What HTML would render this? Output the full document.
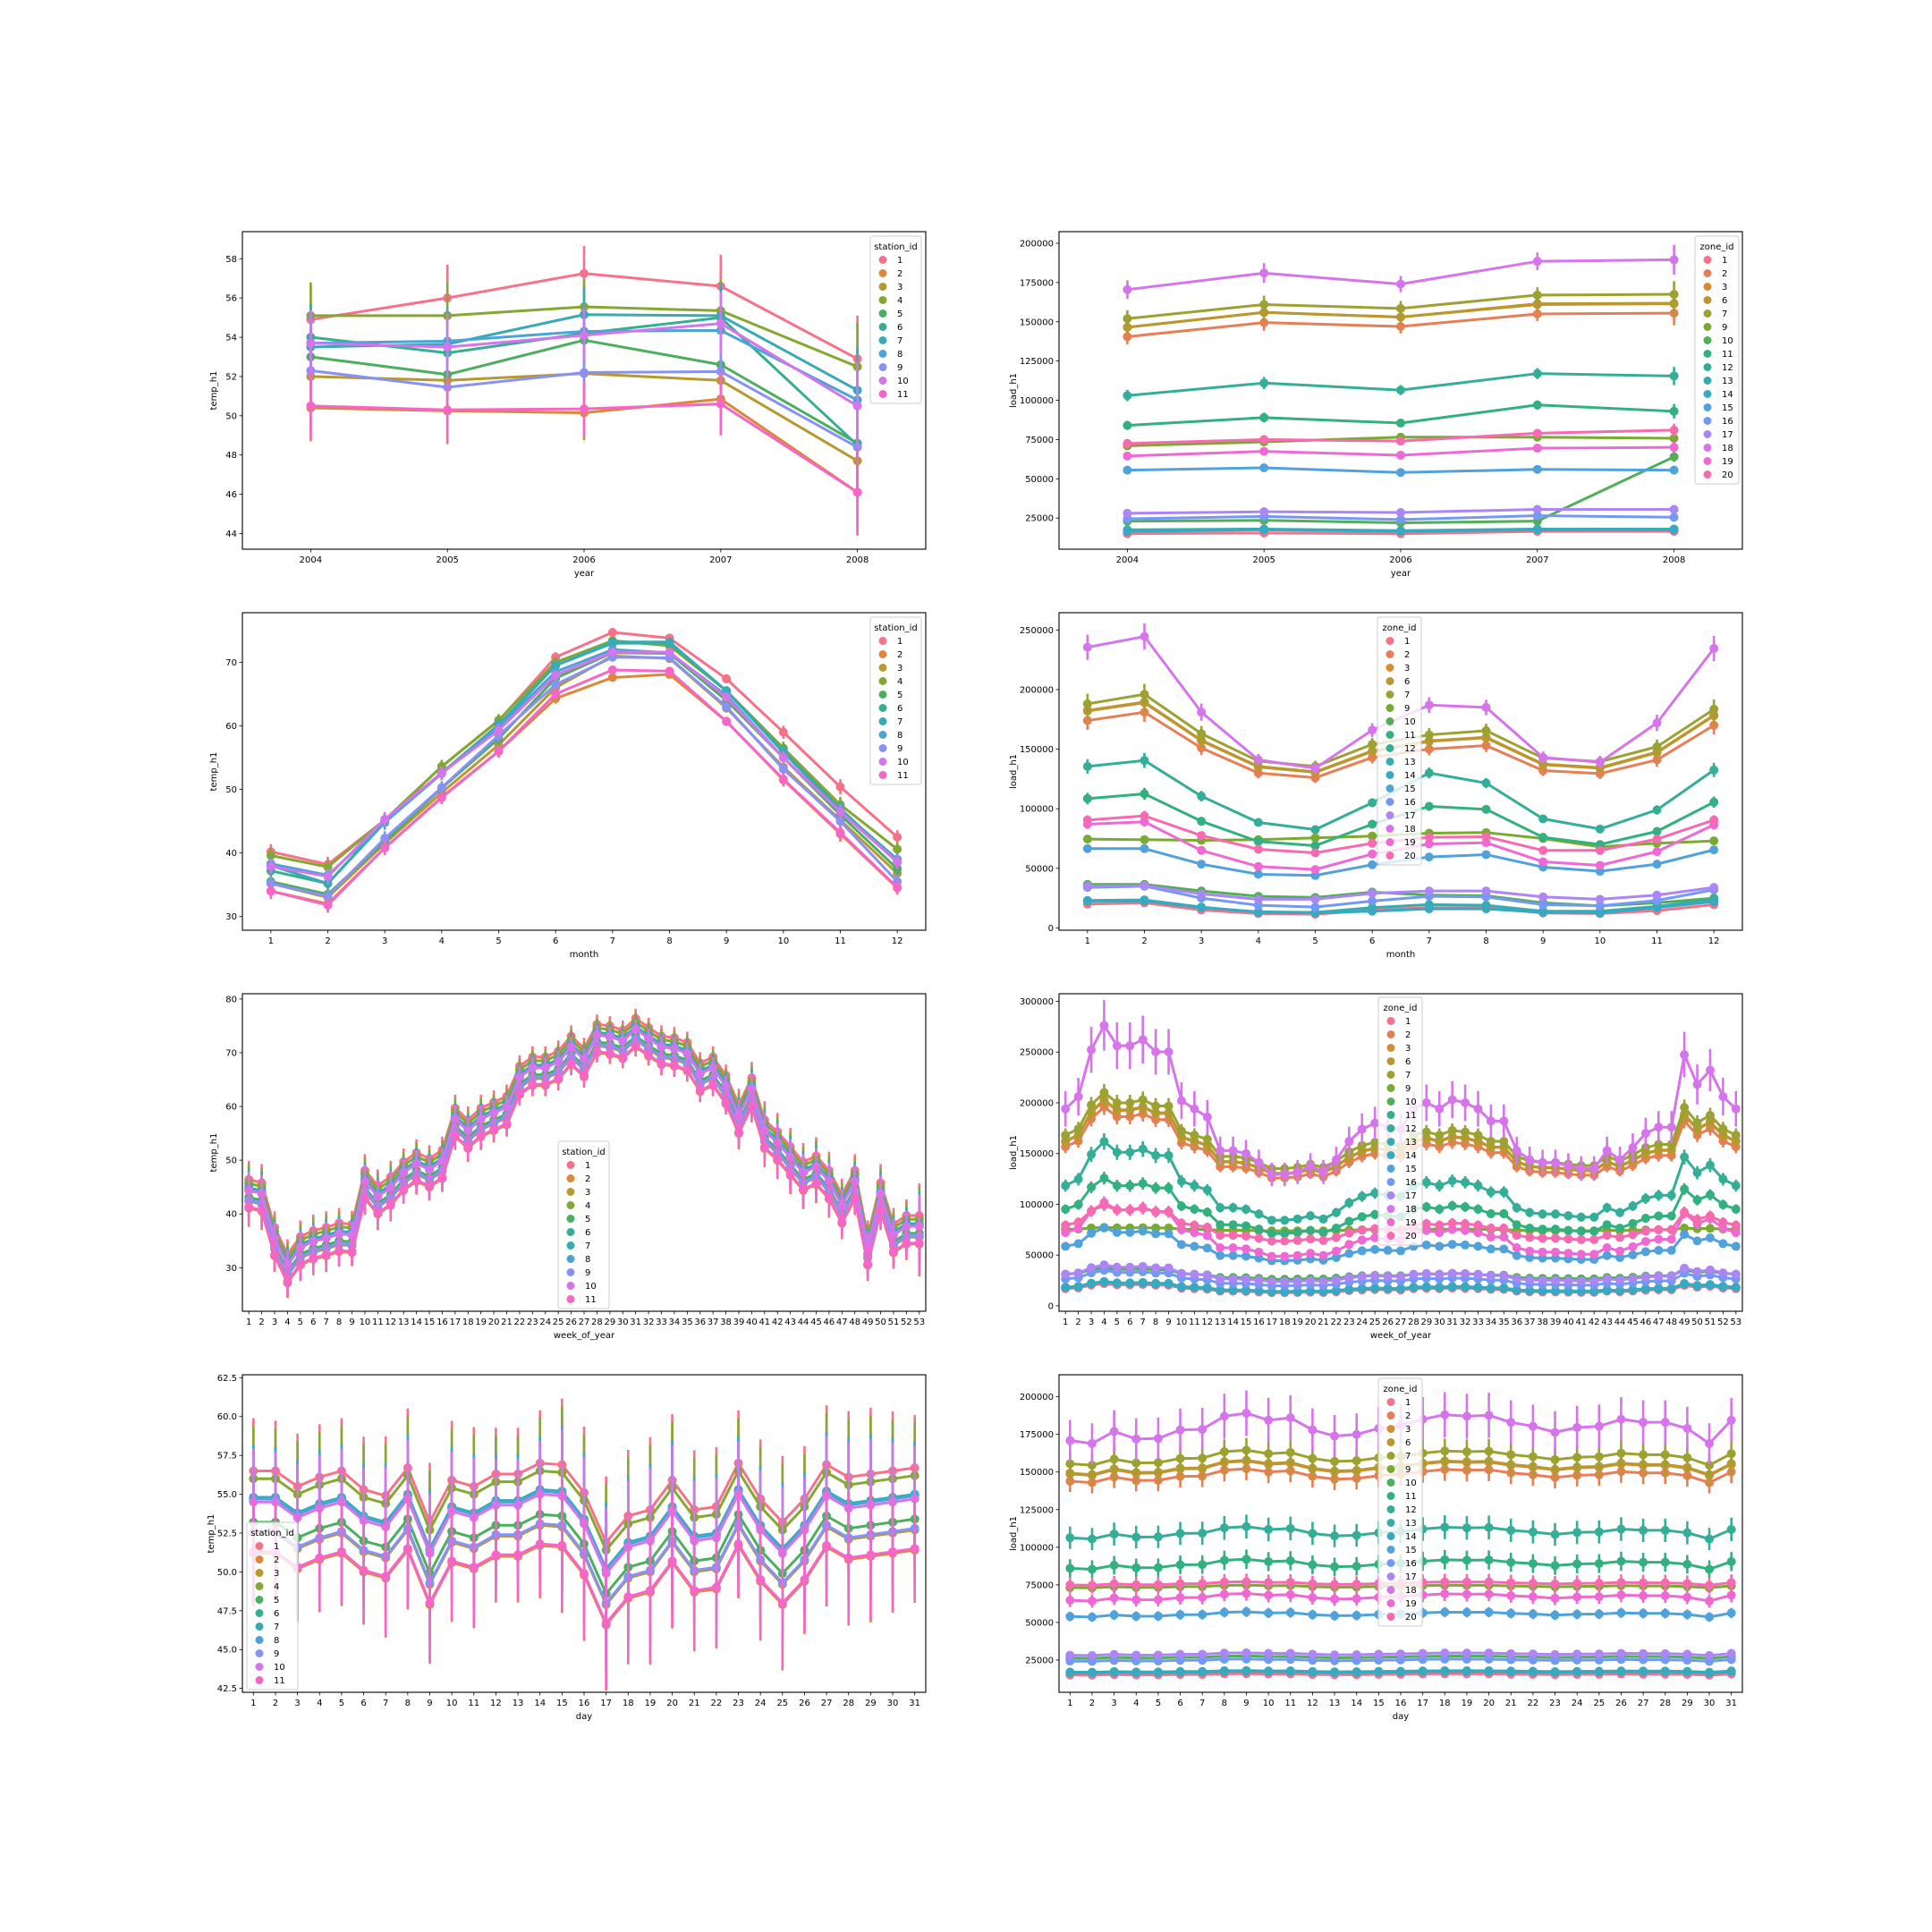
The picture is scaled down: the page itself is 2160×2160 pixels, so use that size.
<!DOCTYPE html>
<html><head><meta charset="utf-8"><style>
html,body{margin:0;padding:0;background:#fff}
svg{display:block}
text{font-family:"DejaVu Sans","Liberation Sans",sans-serif;fill:#000}
</style></head><body>
<svg id="fig" width="2160" height="2160" viewBox="0 0 2160 2160" xmlns="http://www.w3.org/2000/svg"></svg>
<script>
// ---------- categories ----------
const stations = ["1","2","3","4","5","6","7","8","9","10","11"];
const zones = ["1","2","3","6","7","9","10","11","12","13","14","15","16","17","18","19","20"];
const years = ["2004","2005","2006","2007","2008"];
const months = ["1","2","3","4","5","6","7","8","9","10","11","12"];
const weeks = []; for (let i=1;i<=53;i++) weeks.push(String(i));
const days = []; for (let i=1;i<=31;i++) days.push(String(i));

// ---------- panel 1: temp by year ----------
const yearTemp = [
[54.9,56.0,57.25,56.6,52.9],[50.4,50.25,50.15,50.85,46.1],[52.0,51.8,52.15,51.8,47.7],
[55.1,55.1,55.55,55.35,52.5],[53.0,52.1,53.85,52.6,48.6],[54.0,53.2,54.2,55.0,48.5],
[53.5,53.65,55.15,55.1,51.3],[53.7,53.8,54.3,54.35,50.8],[52.3,51.45,52.2,52.25,48.4],
[53.7,53.5,54.1,54.7,50.5],[50.5,50.3,50.35,50.6,46.1]];
const yearTempCI = [1.7,1.7,1.4,1.6,2.2];

// ---------- panel 2: load by year ----------
const yearLoad = [
[15000,15500,15000,16500,16500],[140500,149500,147000,155000,155500],[146500,156000,153000,161000,161500],
[146500,156000,153000,161500,161800],[152000,161000,158500,167000,167500],[71000,73500,76500,76500,75800],
[23000,23500,22000,23000,64000],[84000,89000,85500,97000,93000],[103000,111000,106500,117000,115500],
[17500,18000,17000,18000,18000],[16500,17500,16500,17500,17500],[55500,57000,54000,56000,55500],
[24500,26000,24000,26500,25500],[28000,29000,28500,30500,30500],[170500,181000,174000,188500,189500],
[64500,67500,65000,69500,70000],[72500,75000,74000,79000,81000]];
const yearLoadCI = [0.035,0.035,0.03,0.03,0.05];

// ---------- panel 3: temp by month ----------
const monthTemp = [
[40.2,38.2,45.2,53.6,60.8,70.8,74.7,73.8,67.4,59.0,50.4,42.5],
[34.0,32.0,40.8,48.8,56.0,64.3,67.6,68.1,60.7,51.5,43.0,34.5],
[35.2,33.0,41.5,49.5,57.0,66.0,71.0,70.6,62.8,53.5,45.2,36.8],
[39.6,37.8,45.2,53.6,60.9,70.0,73.4,72.6,65.5,56.5,47.6,40.6],
[35.5,33.5,41.8,50.2,58.0,67.5,71.5,71.4,64.0,55.0,46.0,37.5],
[37.2,35.2,44.8,52.6,60.2,69.5,73.0,73.0,65.5,56.0,47.0,38.5],
[38.0,35.2,45.0,52.6,60.0,69.5,73.2,73.2,65.5,55.8,46.8,39.0],
[38.3,36.5,44.8,52.5,59.8,68.5,72.0,71.5,64.8,55.0,46.5,38.8],
[35.2,33.2,42.3,50.3,58.5,66.5,70.8,70.7,63.0,53.2,45.0,35.5],
[37.9,36.3,45.3,52.6,59.3,68.0,71.6,71.6,64.5,55.0,46.5,38.6],
[34.0,31.8,40.8,48.7,56.0,65.0,68.8,68.6,60.7,51.6,43.2,34.6]];
const monthTempCI = [2,2,1.9,1.7,1.6,1.3,1.0,1.0,1.2,1.7,2.0,1.8];

// ---------- panel 4: load by month ----------
const monthLoad = [
[20000,21000,15000,12000,11500,15000,17000,17000,12500,12000,14500,19500],
[174000,181000,151000,130000,126000,143000,150000,153000,132000,129500,141000,170000],
[182000,189000,157000,135000,130500,148000,156500,159500,137000,134000,147000,178000],
[182500,189500,157500,135500,131000,148500,157000,160000,137500,134500,147500,178500],
[188000,196000,163000,140000,135500,154000,162000,165500,142500,139500,152000,183500],
[74500,74000,73500,74000,75500,77000,79500,80000,75000,68000,71000,73000],
[36500,36500,31000,26500,25500,30000,27500,27000,21000,18500,21000,25000],
[108500,112500,89500,72500,69000,87000,102000,99500,76000,70000,81000,105500],
[135500,140500,110500,88500,82500,105000,130000,121500,91500,83000,99000,132500],
[22500,22500,17000,13500,13000,17000,19500,19000,14000,14000,18000,24000],
[23000,23500,17500,13000,12500,14000,16000,16000,13000,12500,17000,22000],
[66500,66500,53500,45000,44000,53000,59500,61500,51000,47500,53500,65500],
[34000,35000,25000,19000,17500,22500,26500,26000,19500,18500,23000,32000],
[35000,35500,28500,24000,24000,29000,31000,31000,26000,24000,27500,34000],
[235500,244500,181000,141000,134000,166000,187000,185000,143000,139000,172000,234500],
[87000,89000,65000,51500,49000,62000,70500,71500,55500,52500,64000,86500],
[90500,94000,77500,66000,63000,71000,76000,76500,65000,65000,74500,90500]];
const monthLoadCI = [0.045,0.045,0.04,0.035,0.035,0.035,0.035,0.035,0.035,0.035,0.04,0.045];

// ---------- panel 5: temp by week ----------
const weekTempMean = [43.9,43.3,35,30,33.3,34.4,35,35.8,35.6,45.6,42.8,44.4,47.2,48.9,47.8,49.4,57.2,55,57.2,58.3,59.4,65,66.7,66.7,67.8,70.6,68.3,72.8,72.5,71.7,73.9,72.2,70.6,70.3,69.4,65.6,66.7,63.3,57.8,62.8,55,52.8,50,47.2,48.3,45.6,41.1,45.6,33.3,43.3,35.6,37.2,37.2];
const weekTempOffset = [2.5,-2.8,-1.5,1.8,-0.8,0.8,1.0,0.5,-1.3,0.5,-2.6];
const weekTempCI = [3.5,3.5,3,2.8,3,3,3,2.8,2.5,3,3,3,2.5,2.5,2.5,2.5,2.5,2.5,2.5,2.2,2.2,2,2,2,2,2,2,1.8,1.8,1.8,1.8,1.8,2,2,2,2,2,2,3,3,3.5,3.5,3.5,3.5,3.5,3.5,3,3,3,3.5,3,3,6];

// ---------- panel 6: load by week ----------
const weekLoadProfile = [164,170,193,205,195,195,198,192,192,168,164,160,143.5,143.5,142,137.6,131.8,131.8,133,136,133,139,148,154,157,155,154,164,167,164,168.5,167,164,158,158,143.5,139,137.6,137.6,136,134.7,134.7,143.5,139,145,152,155,155,190.6,176,183,170,164];
const weekLoadProfileMean = 157;
const weekZoneLevel = [16000,150000,155000,155500,161000,75000,30000,90000,111000,17500,17000,55500,25000,29500,180000,67000,76000];
const weekZoneSens = [1.2,1.0,1.0,1.0,1.0,0.1,0.8,1.3,1.5,1.2,1.2,1.25,1.3,1.2,1.75,1.7,1.0];
const weekZoneCI = [0.05,0.04,0.04,0.04,0.04,0.04,0.08,0.05,0.05,0.05,0.05,0.05,0.05,0.05,0.09,0.06,0.06];

// ---------- panel 7: temp by day ----------
const dayTempMean = [53.5,53.5,52.5,53.1,53.5,52.3,51.9,53.7,50.2,52.9,52.5,53.3,53.3,54.0,53.9,52.1,48.9,50.6,51.0,52.9,51.0,51.2,54.0,51.7,50.2,51.7,53.9,53.1,53.3,53.5,53.7];
const dayTempOffset = [3.0,-2.3,-1.0,2.5,-0.3,1.2,1.3,1.2,-0.9,1.0,-2.2];
const dayTempCI = [4,3.8,4,4,4,4,4.5,4.5,4.5,4.5,4.5,3.5,3.5,4,5,5,5,5,5.5,5,4.5,4.5,4,4.5,5,4,4.5,5,5,4.5,4];

// ---------- panel 8: load by day ----------
const dayLoadProfile = [156,155,159,156.5,156.7,159.5,159.7,164,165,162.7,163.5,159.5,157.5,158,160,161,163,164.5,164,164.3,162,160.7,158.7,160.3,160.7,163,162,162,160,155,162.7];
const dayLoadProfileMean = 160.5;
const dayZoneLevel = [15500,148000,153000,153500,160000,74000,27000,89000,110000,17500,17000,55500,25000,29000,180000,67000,76000];
const dayZoneSens = [1.0,1.0,1.0,1.0,1.0,0.4,1.0,1.2,1.2,1.0,1.0,1.0,1.0,1.0,1.8,1.2,0.5];
const dayZoneCI = [0.05,0.05,0.05,0.05,0.05,0.05,0.06,0.07,0.07,0.05,0.05,0.06,0.06,0.06,0.08,0.07,0.07];

// ---------- colours ----------
const hkeys = ['#f77189','#dc8932','#ae9d31','#77ab31','#33b07a','#36ada4','#38a9c5','#6e9bf4','#cc7af4','#f565cc'];
function hx(c){return [parseInt(c.slice(1,3),16),parseInt(c.slice(3,5),16),parseInt(c.slice(5,7),16)];}
function palette(n){const out=[];for(let i=0;i<n;i++){const t=i/n*10;const k=Math.floor(t),f=t-k;const a=hx(hkeys[k%10]),b=hx(hkeys[(k+1)%10]);out.push('rgb('+a.map((v,j)=>Math.round(v+(b[j]-v)*f)).join(',')+')');}return out;}
const stColors = palette(11), znColors = palette(17);

const NS="http://www.w3.org/2000/svg";
const fig=document.getElementById('fig');
function mk(tag,attrs,parent){const e=document.createElementNS(NS,tag);for(const k in attrs)e.setAttribute(k,attrs[k]);(parent||fig).appendChild(e);return e;}

function panel(o){
  const g=mk('g',{});
  
  
  const n=o.cats.length;
  const X=i=>o.x0+(i+0.5)/n*o.w;
  const Y=v=>o.y0+o.h-(v-o.ylim[0])/(o.ylim[1]-o.ylim[0])*o.h;
  // series
  o.series.forEach((s,si)=>{
    const sg=mk('g',{},g);
    
    
    const col=o.colors[si];
    s.forEach((v,i)=>{
      const c=o.ci(si,i,v);
      const eb=mk('line',{x1:X(i),x2:X(i),y1:Y(v-c),y2:Y(v+c),stroke:col,'stroke-width':2.6},sg);
      
      
    });
    const pl=mk('polyline',{points:s.map((v,i)=>X(i)+','+Y(v)).join(' '),fill:'none',stroke:col,'stroke-width':3,'stroke-linejoin':'round'},sg);
    
    
    s.forEach((v,i)=>{
      const p=mk('circle',{cx:X(i),cy:Y(v),r:5,fill:col},sg);
      
      
    });
  });
  // frame
  const fr=mk('rect',{x:o.x0,y:o.y0,width:o.w,height:o.h,fill:'none',stroke:'#000','stroke-width':1.1},g);
  
  
  // x ticks
  o.cats.forEach((c,i)=>{
    mk('line',{x1:X(i),x2:X(i),y1:o.y0+o.h,y2:o.y0+o.h+3.5,stroke:'#000','stroke-width':0.8},g);
    const t=mk('text',{x:X(i),y:o.y0+o.h+15,'font-size':10,'text-anchor':'middle'},g);
    t.textContent=c;
    
    
  });
  // y ticks
  o.yticks.forEach(v=>{
    const y=Y(v);
    mk('line',{x1:o.x0-3.5,x2:o.x0,y1:y,y2:y,stroke:'#000','stroke-width':0.8},g);
    const t=mk('text',{x:o.x0-6,y:y+3.5,'font-size':10,'text-anchor':'end'},g);
    t.textContent=o.yfmt?o.yfmt(v):String(v);
    
    
  });
  const xl=mk('text',{x:o.x0+o.w/2,y:o.y0+o.h+30,'font-size':10,'text-anchor':'middle'},g);
  xl.textContent=o.xlabel;
  
  
  const yx=o.x0-o.ylabOff, yy=o.y0+o.h/2;
  const yl=mk('text',{x:yx,y:yy,'font-size':10,'text-anchor':'middle',transform:'rotate(-90 '+yx+' '+yy+')'},g);
  yl.textContent=o.ylabel;
  
  
  // legend
  const L=o.legend;
  const lg=mk('g',{},g);
  
  
  const hgt=22+o.hues.length*15;
  mk('rect',{x:L[0],y:L[1],width:L[2],height:hgt,rx:2.5,fill:'#fff','fill-opacity':0.8,stroke:'#cccccc','stroke-width':1},lg);
  const tt=mk('text',{x:L[0]+L[2]/2,y:L[1]+15,'font-size':10,'text-anchor':'middle'},lg);
  tt.textContent=o.hueName;
  
  
  o.hues.forEach((h,i)=>{
    const ey=L[1]+30+i*15;
    const eg=mk('g',{},lg);
    
    
    mk('circle',{cx:L[0]+14,cy:ey-3.5,r:4.5,fill:o.colors[i]},eg);
    const lt=mk('text',{x:L[0]+30,y:ey,'font-size':10},eg);
    lt.textContent=h;
  });
}
function rng(a,b,s){const r=[];for(let v=a;v<=b+1e-9;v+=s)r.push(+v.toFixed(4));return r;}
const C0=271,C1=1184,W=764,R=[259,685,1111,1537],H=355;

panel({name:'year-temp-chart',x0:C0,y0:R[0],w:W,h:H,cats:years,series:yearTemp,colors:stColors,hues:stations,hueName:'station_id',
 ylim:[43.2,59.38],yticks:rng(44,58,2),xlabel:'year',ylabel:'temp_h1',ylabOff:29,
 ci:(s,i)=>yearTempCI[i],legend:[973,264,57]});
panel({name:'year-load-chart',x0:C1,y0:R[0],w:W,h:H,cats:years,series:yearLoad,colors:znColors,hues:zones,hueName:'zone_id',
 ylim:[5160,207400],yticks:rng(25000,200000,25000),xlabel:'year',ylabel:'load_h1',ylabOff:48,
 ci:(s,i,v)=>v*yearLoadCI[i],legend:[1895,264,49]});
panel({name:'month-temp-chart',x0:C0,y0:R[1],w:W,h:H,cats:months,series:monthTemp,colors:stColors,hues:stations,hueName:'station_id',
 ylim:[27.85,77.8],yticks:rng(30,70,10),xlabel:'month',ylabel:'temp_h1',ylabOff:29,
 ci:(s,i)=>monthTempCI[i]*0.6,legend:[973,690,57]});
panel({name:'month-load-chart',x0:C1,y0:R[1],w:W,h:H,cats:months,series:monthLoad,colors:znColors,hues:zones,hueName:'zone_id',
 ylim:[-1950,264500],yticks:rng(0,250000,50000),xlabel:'month',ylabel:'load_h1',ylabOff:48,
 ci:(s,i,v)=>v*monthLoadCI[i],legend:[1540,690,49]});

const weekTemp = stations.map((s,si)=>weekTempMean.map(v=>v+weekTempOffset[si]));
panel({name:'week-temp-chart',x0:C0,y0:R[2],w:W,h:H,cats:weeks,series:weekTemp,colors:stColors,hues:stations,hueName:'station_id',
 ylim:[21.9,80.98],yticks:rng(30,80,10),xlabel:'week_of_year',ylabel:'temp_h1',ylabOff:29,
 ci:(s,i)=>weekTempCI[i],legend:[624,1276,57]});
const weekLoad = zones.map((z,zi)=>weekLoadProfile.map(p=>weekZoneLevel[zi]*(1+weekZoneSens[zi]*(p/weekLoadProfileMean-1))));
panel({name:'week-load-chart',x0:C1,y0:R[2],w:W,h:H,cats:weeks,series:weekLoad,colors:znColors,hues:zones,hueName:'zone_id',
 ylim:[-5380,307500],yticks:rng(0,300000,50000),xlabel:'week_of_year',ylabel:'load_h1',ylabOff:48,
 ci:(s,i,v)=>v*weekZoneCI[s],legend:[1541,1115,49]});

const dayTemp = stations.map((s,si)=>dayTempMean.map(v=>v+dayTempOffset[si]));
panel({name:'day-temp-chart',x0:C0,y0:R[3],w:W,h:H,cats:days,series:dayTemp,colors:stColors,hues:stations,hueName:'station_id',
 ylim:[42.25,62.69],yticks:rng(42.5,62.5,2.5),yfmt:v=>v.toFixed(1),xlabel:'day',ylabel:'temp_h1',ylabOff:32,
 ci:(s,i)=>dayTempCI[i]*0.85,legend:[276,1702,57]});
const dayLoad = zones.map((z,zi)=>dayLoadProfile.map(p=>dayZoneLevel[zi]*(1+dayZoneSens[zi]*(p/dayLoadProfileMean-1))));
panel({name:'day-load-chart',x0:C1,y0:R[3],w:W,h:H,cats:days,series:dayLoad,colors:znColors,hues:zones,hueName:'zone_id',
 ylim:[3570,214640],yticks:rng(25000,200000,25000),xlabel:'day',ylabel:'load_h1',ylabOff:48,
 ci:(s,i,v)=>v*dayZoneCI[s],legend:[1541,1541,49]});
</script>
</body></html>
